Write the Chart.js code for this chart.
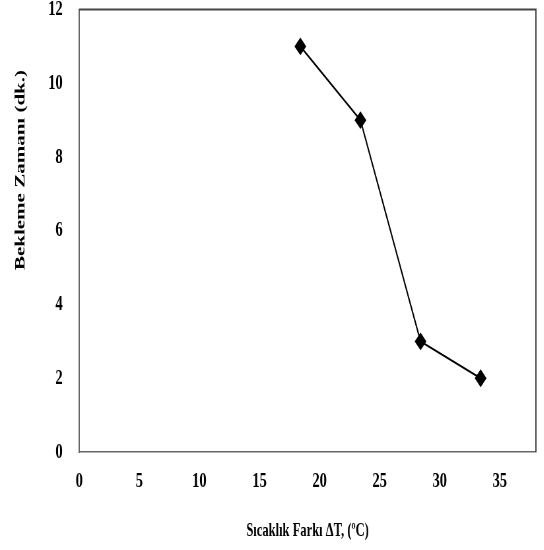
<!DOCTYPE html>
<html>
<head>
<meta charset="utf-8">
<script src="https://cdn.jsdelivr.net/npm/chart.js@4"></script>
<style>
  html, body { margin: 0; padding: 0; background: #fff; overflow: hidden; }
  /* the reference figure is squeezed sideways, so draw wide and squeeze */
  #wrap { width: 824px; height: 550px; transform: scaleX(0.66); transform-origin: 0 0; }
</style>
</head>
<body>
<div id="wrap"><canvas id="chart" width="824" height="550"></canvas></div>
<script>
  // values
  const deltaT = [18.4, 23.4, 28.4, 33.4];
  const waitTime = [11, 9, 3, 2];
  const xTicks = [0, 5, 10, 15, 20, 25, 30, 35];
  const yTicks = [0, 2, 4, 6, 8, 10, 12];

  const serif = 'Liberation Serif, Times New Roman, serif';
  const yTitle = 'Bekleme Zamanı (dk.)';

  // frame on the top and right of the plot area, plus the y title
  // (the title sits above the middle of the axis in the reference)
  const framePlugin = {
    id: 'frame',
    afterDraw(chart) {
      const { ctx, chartArea: a } = chart;
      ctx.save();
      ctx.strokeStyle = '#444';
      ctx.lineWidth = 2;
      ctx.beginPath();
      ctx.moveTo(a.left, a.top);
      ctx.lineTo(a.right, a.top);
      ctx.lineTo(a.right, a.bottom);
      ctx.stroke();

      ctx.translate(32, 170);
      ctx.rotate(-Math.PI / 2);
      ctx.fillStyle = '#000';
      ctx.font = 'bold 21px ' + serif;
      ctx.textAlign = 'center';
      ctx.textBaseline = 'middle';
      ctx.fillText(yTitle, 0, 0);
      ctx.restore();
    }
  };

  const chart = new Chart(document.getElementById('chart'), {
    type: 'scatter',
    data: {
      datasets: [{
        label: 'Bekleme Zamanı',
        data: deltaT.map((x, i) => ({ x: x, y: waitTime[i] })),
        showLine: true,
        borderColor: '#000',
        backgroundColor: '#000',
        borderWidth: 2,
        pointStyle: 'rectRot',
        pointRadius: 7.5,
        pointHoverRadius: 7.5
      }]
    },
    options: {
      responsive: false,
      animation: false,
      layout: { padding: { top: 7, right: 12, left: 0, bottom: 0 } },
      plugins: { legend: { display: false }, tooltip: { enabled: false } },
      scales: {
        x: {
          type: 'linear',
          min: 0,
          max: 38,
          afterBuildTicks: s => { s.ticks = xTicks.map(v => ({ value: v })); },
          afterFit: s => { s.height = 98; s.paddingLeft = 0; s.paddingRight = 0; },
          grid: { display: false },
          border: { display: true, color: '#666', width: 1.5 },
          ticks: { color: '#000', padding: 8, font: { family: serif, size: 22, weight: 'bold' } },
          title: {
            display: true,
            text: 'Sıcaklık Farkı ΔT, (ºC)',
            color: '#000',
            padding: { top: 0, bottom: 8 },
            font: { family: serif, size: 19, weight: 'bold' }
          }
        },
        y: {
          min: 0,
          max: 12,
          afterBuildTicks: s => { s.ticks = yTicks.map(v => ({ value: v })); },
          afterFit: s => { s.width = 120; s.paddingTop = 0; s.paddingBottom = 0; },
          grid: { display: false },
          border: { display: true, color: '#666', width: 2 },
          ticks: { color: '#000', padding: 17, font: { family: serif, size: 22, weight: 'bold' } },
          title: { display: false }
        }
      }
    },
    plugins: [framePlugin]
  });
</script>
</body>
</html>
